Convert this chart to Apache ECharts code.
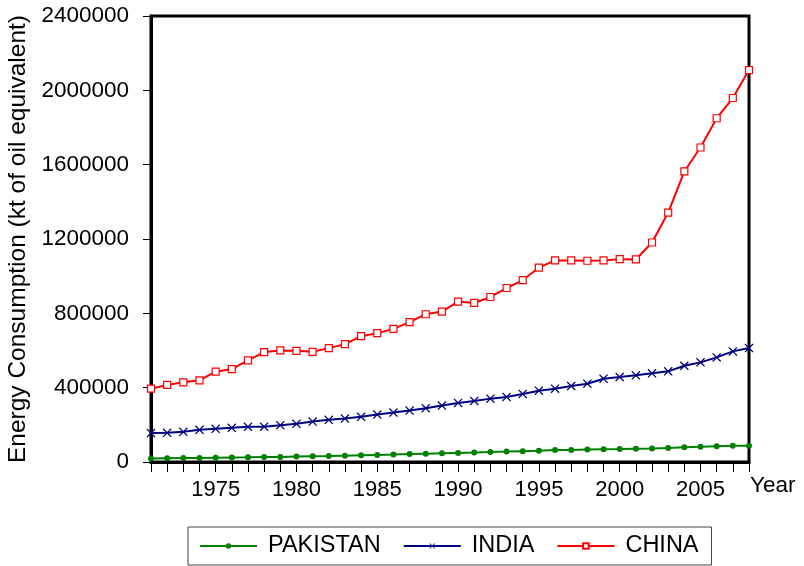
<!DOCTYPE html>
<html><head><meta charset="utf-8">
<script src="https://cdn.jsdelivr.net/npm/echarts@6/dist/echarts.min.js"></script>
<style>html,body{margin:0;padding:0;background:#fff}#c{width:804px;height:566px}</style>
</head><body><div id="c"></div>
<script>
var years = [];
for (var y = 1971; y <= 2008; y++) years.push(String(y));
var pakistan = [19000,20000,21000,22000,23000,24000,25000,26500,27500,29000,30500,32000,34000,36000,38000,40000,42500,45000,47000,49000,51000,54000,56000,58500,61000,64000,65000,67000,69000,70000,71500,72500,75000,79000,81500,85000,88000,87000];
var india = [155500,157100,162500,173200,178600,183900,189300,190000,198400,205400,217700,226800,233800,242900,255200,266000,276700,289500,303500,318000,328700,341000,350100,366200,383900,394600,409100,421400,448300,457400,466500,477200,487900,518000,536200,563000,595200,612900];
var china = [394600,414500,429000,439700,485800,500300,547000,591400,600500,598400,593000,612900,634300,677200,693300,716400,752300,795200,809700,863300,855800,888000,936200,979100,1045600,1084700,1084700,1083000,1084700,1091700,1090000,1181200,1342100,1563500,1692300,1849900,1958700,2108900];
var yTicks = [0,400000,800000,1200000,1600000,2000000,2400000];

var font = 'Liberation Sans, Arial, sans-serif';
var chart = echarts.init(document.getElementById('c'), null, {renderer:'canvas'});
chart.setOption({
  animation:false,
  backgroundColor:'#fff',
  grid:{left:151,right:55,top:16,bottom:104,containLabel:false,outerBoundsMode:'none',
        show:true,borderColor:'#000',borderWidth:3,backgroundColor:'transparent'},
  legend:{
    bottom:1, left:188,
    data:['PAKISTAN','INDIA','CHINA'],
    itemWidth:57, itemHeight:7, itemGap:22,
    borderColor:'#444', borderWidth:1, padding:[7,13,7,11],
    textStyle:{fontFamily:font,fontSize:23.5,color:'#000',padding:[0,0,0,6]}
  },
  xAxis:{
    type:'category', data:years, boundaryGap:false,
    name:'Year', nameLocation:'end', nameGap:1,
    nameTextStyle:{fontFamily:font,fontSize:22.5,color:'#000',verticalAlign:'top',align:'left',padding:[12,0,0,0]},
    axisLine:{lineStyle:{color:'#000',width:3}},
    axisTick:{show:true,interval:0,length:10,lineStyle:{color:'#000',width:1}},
    axisLabel:{interval:function(i,v){return (+v)%5===0;},margin:17,fontFamily:font,fontSize:22,color:'#000'},
    splitLine:{show:false}
  },
  yAxis:{
    type:'value', min:0, max:2400000, interval:400000,
    name:'Energy Consumption (kt of oil equivalent)', nameLocation:'middle', nameGap:117,
    nameTextStyle:{fontFamily:font,fontSize:24.5,color:'#000'},
    axisLine:{show:true,lineStyle:{color:'#000',width:3}},
    axisTick:{show:true,length:8,lineStyle:{color:'#000',width:1}},
    axisLabel:{margin:22,fontFamily:font,fontSize:22.5,color:'#000',
      formatter:function(v){return yTicks.indexOf(v)>=0?String(v):'';}},
    splitLine:{show:false}
  },
  series:[
    {name:'PAKISTAN',type:'line',data:pakistan,symbol:'circle',symbolSize:6,
     lineStyle:{color:'#008000',width:2},itemStyle:{color:'#008000'}},
    {name:'INDIA',type:'line',data:india,
     symbol:'path://M0,1 L1,0 L5,4 L9,0 L10,1 L6,5 L10,9 L9,10 L5,6 L1,10 L0,9 L4,5 Z',symbolSize:9,
     lineStyle:{color:'#000080',width:2},itemStyle:{color:'#000080'}},
    {name:'CHINA',type:'line',data:china,symbol:'rect',symbolSize:7,
     lineStyle:{color:'#ff0000',width:2},itemStyle:{color:'#fff',borderColor:'#ff0000',borderWidth:1.2}}
  ]
});
</script></body></html>
